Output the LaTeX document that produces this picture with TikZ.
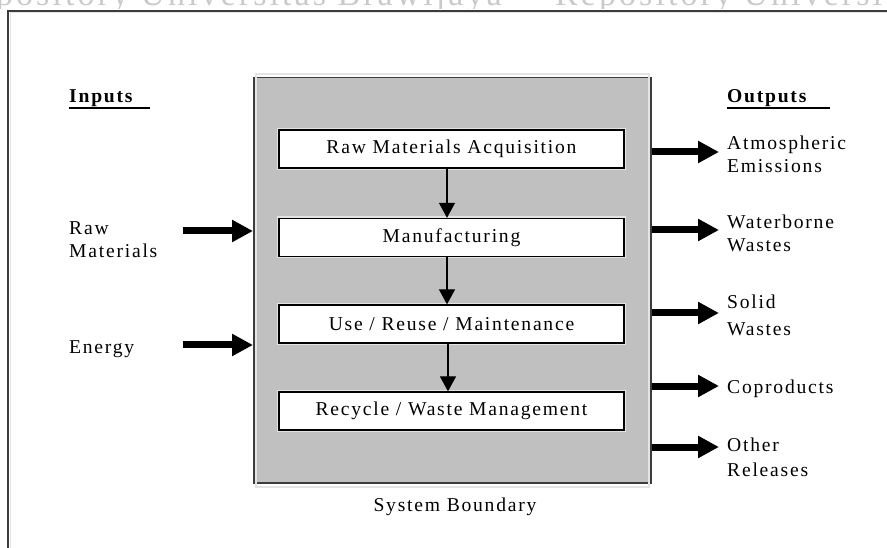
\documentclass[tikz,border=0pt]{standalone}
\usepackage{fontspec}
\setmainfont{Liberation Serif}[LetterSpace=9]
\usetikzlibrary{arrows.meta}
\definecolor{boxgray}{HTML}{C0C0C0}
\definecolor{edgegray}{HTML}{3C3C3C}
\definecolor{halo}{HTML}{E4E4E4}
\definecolor{wmark}{HTML}{CACACA}
\tikzset{
  lbl/.style={font=\fontsize{19.6}{23}\selectfont, inner sep=0pt, anchor=base west, align=left},
  head/.style={lbl, font=\fontsize{19.6}{23}\selectfont\bfseries},
  stage/.style={draw=black, line width=1.3pt, fill=white, minimum width=345pt, minimum height=38pt, inner sep=0pt, font=\fontsize{19.6}{23}\selectfont},
  flow/.style={line width=1.2pt, -{Triangle[length=15pt,width=16pt]}},
  bigarrow/.style={line width=7pt, -{Triangle[length=21pt,width=21pt]}},
}
\begin{document}
\begin{tikzpicture}[x=1pt,y=-1pt]
\useasboundingbox (0,0) rectangle (887,548);
% faint watermark cut at the top
\begin{scope}
  \clip (0,0) rectangle (887,9);
  \node[anchor=base west, text=wmark, font=\fontsize{34}{34}\selectfont, inner sep=0pt] (wm1) at (-48,6) {Repository Universitas Brawijaya};
  \node[anchor=base west, text=wmark, font=\fontsize{34}{34}\selectfont, inner sep=0pt] (wm2) at (555,6) {Repository Universitas Brawijaya};
\end{scope}
% outer frame
\draw[edgegray, line width=1.6pt] (8,560) -- (8,11) -- (900,11);
\draw[halo, line width=1pt] (10,560) -- (10,13) -- (900,13);
% system boundary box
\node[draw=edgegray, line width=1.5pt, fill=boxgray, minimum width=397pt, minimum height=405pt, inner sep=0pt, anchor=north west] (gb) at (253,77) {};
\draw[halo, line width=2pt] ([shift={(3,3)}]gb.south west) rectangle ([shift={(-3,-3)}]gb.north east);
% stages
\foreach \n/\y/\t in {s1/149/{Raw Materials Acquisition}, s2/237.5/{Manufacturing}, s3/324/{Use / Reuse / Maintenance}, s4/411/{Recycle / Waste Management}}{
  \draw[halo, line width=4pt] (279,\y-19) rectangle (624,\y+19);
  \node[stage] (\n) at (451.5,\y) {\t};
}
\draw[flow] (s1.south -| 447,0) -- (s2.north -| 447,0);
\draw[flow] (s2.south -| 447,0) -- (s3.north -| 447,0);
\draw[flow] (s3.south -| 448,0) -- (s4.north -| 448,0);
% headings
\node[head] (inp) at (69,103) {Inputs};
\draw[line width=1.2pt] (69,108) -- (150,108);
\node[head] (outp) at (727,103) {Outputs};
\draw[line width=1.2pt] (727,108) -- (830,108);
% inputs
\node[lbl] (rawm) at (69,258) {Raw\\Materials};
\node[lbl] (energy) at (69,353) {Energy};
\coordinate (rawa) at (183,231);
\coordinate (enea) at (183,345);
\draw[bigarrow] (rawa) -- (gb.west |- rawa);
\draw[bigarrow] (enea) -- (gb.west |- enea);
% outputs
\node[lbl] (atm) at (727,173) {Atmospheric\\Emissions};
\node[lbl] (wat) at (727,252) {Waterborne\\Wastes};
\node[lbl] (sol) at (727,336) {Solid\\[5pt]Wastes};
\node[lbl] (cop) at (727,393) {Coproducts};
\node[lbl] (oth) at (727,476) {Other\\[2pt]Releases};
\foreach \c/\y in {oa/152, ob/230, oc/313, od/386, oe/447}{
  \coordinate (\c) at (719,\y);
  \draw[bigarrow] (gb.east |- \c) -- (\c);
}
% caption
\node[lbl, anchor=base] (cap) at (455,511) {System Boundary};
\end{tikzpicture}
\end{document}
